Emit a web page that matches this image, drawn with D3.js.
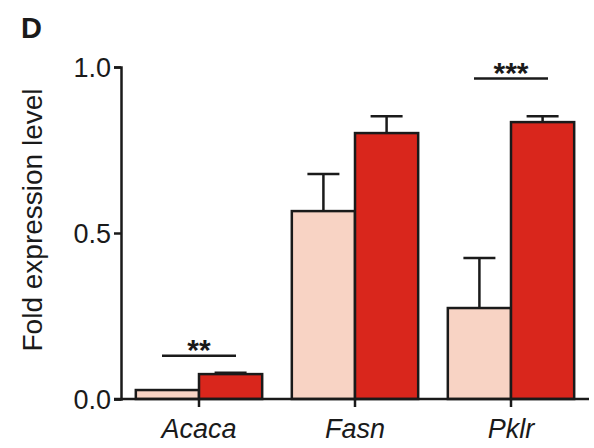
<!DOCTYPE html>
<html><head><meta charset="utf-8">
<script src="https://cdn.jsdelivr.net/npm/d3@7"></script>
<style>body{margin:0;background:#fff}svg{display:block}text{font-family:"Liberation Sans",Arial,sans-serif;fill:#1a1a1a}</style>
</head><body>
<script>
const genes = ["Acaca", "Fasn", "Pklr"];
const groups = ["control", "treated"];
const controlMean = [0.027, 0.566, 0.274];
const controlErr = [0.0, 0.112, 0.151];
const treatedMean = [0.075, 0.801, 0.834];
const treatedErr = [0.004, 0.051, 0.018];
const yTicks = [0.0, 0.5, 1.0];
const sigGenes = ["Acaca", "Pklr"];
const sigLabels = ["**", "***"];
const sigLevels = [0.13, 0.965];
const colors = ["#f8d3c4", "#d9261c"];

const W = 594, H = 448;
const svg = d3.select("body").append("svg").attr("width", W).attr("height", H);

const x = d3.scaleBand().domain(genes).range([121, 589]).paddingInner(0.19).paddingOuter(0.095);
const xs = d3.scaleBand().domain(groups).range([0, x.bandwidth()]);
const y = d3.scaleLinear().domain([0, 1]).range([399, 67]);

const data = genes.map((g, i) => ({gene: g, vals: [
  {grp: "control", m: controlMean[i], e: controlErr[i]},
  {grp: "treated", m: treatedMean[i], e: treatedErr[i]}]}));

const gg = svg.append("g").selectAll("g").data(data).join("g")
  .attr("transform", d => `translate(${x(d.gene)},0)`);

gg.selectAll("g.err").data(d => d.vals.filter(v => v.e > 0)).join("g").attr("class","err").each(function(v){
  const g = d3.select(this);
  const cx = xs(v.grp) + xs.bandwidth()/2;
  g.append("line").attr("x1", cx).attr("x2", cx).attr("y1", y(v.m)).attr("y2", y(v.m + v.e))
    .attr("stroke", "#1a1a1a").attr("stroke-width", 2.5);
  g.append("line").attr("x1", cx - 16).attr("x2", cx + 16).attr("y1", y(v.m + v.e)).attr("y2", y(v.m + v.e))
    .attr("stroke", "#1a1a1a").attr("stroke-width", 2.5);
});

gg.selectAll("rect").data(d => d.vals).join("rect")
  .attr("x", v => xs(v.grp))
  .attr("y", v => y(v.m))
  .attr("width", xs.bandwidth())
  .attr("height", v => y(0) - y(v.m))
  .attr("fill", (v, i) => colors[i])
  .attr("stroke", "#1a1a1a").attr("stroke-width", 2.5);

const yAxis = svg.append("g").attr("transform", "translate(121,0)")
  .call(d3.axisLeft(y).tickValues(yTicks).tickFormat(d3.format(".1f")).tickSizeOuter(0).tickSize(7).tickPadding(3));
yAxis.select(".domain").attr("stroke", "#1a1a1a").attr("stroke-width", 2.5);
yAxis.selectAll(".tick line").attr("stroke", "#1a1a1a").attr("stroke-width", 2.5);
yAxis.selectAll(".tick text").attr("font-size", 27).attr("font-family", "Liberation Sans, Arial, sans-serif").attr("fill", "#1a1a1a").attr("dy", "0.36em");

const xAxis = svg.append("g").attr("transform", "translate(0,399)")
  .call(d3.axisBottom(x).tickSizeOuter(0).tickSize(8).tickPadding(12));
xAxis.select(".domain").attr("stroke", "#1a1a1a").attr("stroke-width", 2.5).attr("d", "M114,0H589");
xAxis.selectAll(".tick line").attr("stroke", "#1a1a1a").attr("stroke-width", 2.5);
xAxis.selectAll(".tick text").attr("font-size", 27).attr("font-style", "italic").attr("font-family", "Liberation Sans, Arial, sans-serif").attr("fill", "#1a1a1a");

svg.append("text").attr("transform", `translate(42,220) rotate(-90)`)
  .attr("text-anchor", "middle").attr("font-size", 28).text("Fold expression level");

svg.append("text").attr("x", 21).attr("y", 38).attr("font-size", 29).attr("font-weight", "bold").text("D");

sigGenes.forEach((g, i) => {
  const cx = x(g) + x.bandwidth()/2;
  const ly = y(sigLevels[i]);
  svg.append("line").attr("x1", cx - 37).attr("x2", cx + 37).attr("y1", ly).attr("y2", ly)
    .attr("stroke", "#1a1a1a").attr("stroke-width", 2.5);
  svg.append("text").attr("x", cx).attr("y", ly + 4).attr("text-anchor", "middle")
    .attr("font-size", 30).attr("font-weight", "bold").text(sigLabels[i]);
});
</script>
</body></html>
